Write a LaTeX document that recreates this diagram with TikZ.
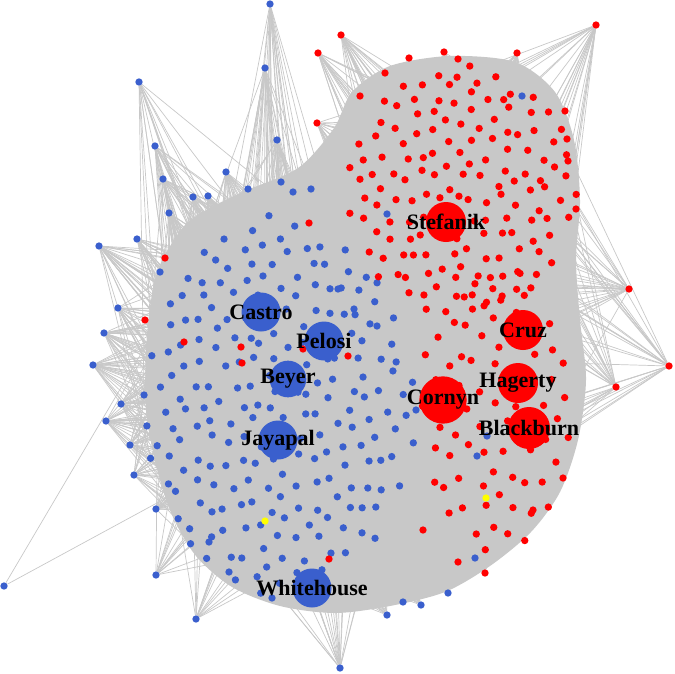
\documentclass[tikz,border=0pt]{standalone}
\usepackage{fontspec}
\setmainfont{Liberation Serif}
\usetikzlibrary{positioning}
\definecolor{demblue}{RGB}{58,95,205}
\definecolor{repred}{RGB}{255,0,0}
\definecolor{indyellow}{RGB}{255,255,0}
\definecolor{linkgrey}{RGB}{200,200,200}
\pgfdeclarelayer{links}
\pgfsetlayers{links,main}
\tikzstyle{dnode} = [circle, fill=demblue, inner sep=0pt, minimum size=2.2mm]
\tikzstyle{rnode} = [circle, fill=repred, inner sep=0pt, minimum size=2.2mm]
\tikzstyle{ynode} = [circle, fill=indyellow, inner sep=0pt, minimum size=2.2mm]
\tikzstyle{dbig} = [dnode, minimum size=1.17cm]
\tikzstyle{rbig} = [rnode, minimum size=1.2cm]
\tikzstyle{link} = [draw=linkgrey, line width=0.6pt]

% rim members: x/y/number of links
\def\bluerim{270/4/8, 265/68/10, 139/82/6, 155/146/8, 277/140/10, 163/179/10,
  226/172/10, 193/197/10, 208/196/10, 248/189/8, 281/182/6, 293/192/6,
  311/189/6, 169/213/10, 137/239/10, 99/246/12, 160/272/8, 118/308/10,
  104/333/12, 93/365/12, 121/404/10, 106/421/12, 130/445/10, 134/475/10,
  156/509/10, 4/586/1, 156/575/6, 196/619/6, 229/572/6, 209/542/6,
  340/668/8, 272/598/6, 475/558/6, 448/593/6, 421/605/6, 403/602/6, 387/615/6}
\def\redrim{341/35/10, 318/53/8, 317/123/8, 596/25/10, 517/53/10, 444/52/8,
  409/58/8, 458/59/6, 385/73/8, 360/96/8, 565/111/8, 567/139/8, 568/161/8,
  576/209/8, 629/289/10, 669/366/10, 616/387/10, 563/478/8, 533/510/8, 485/573/8}
\def\redstray{165/258, 145/320, 184/342, 241/347, 242/363, 303/349, 329/559,
  309/223, 348/356, 423/530, 458/562}
\def\bluestray{387/214, 338/289, 354/309, 377/326, 522/96, 477/456, 487/436, 416/410}

\begin{document}
\begin{tikzpicture}[x=0.03cm, y=-0.03cm,
    every label/.style={font=\bfseries\fontsize{18.8}{20}\selectfont, text=black}]
\useasboundingbox (0,0) rectangle (675,673);
\pgfmathsetseed{31}

% democrats
\foreach \i in {1,...,220}{
  \pgfmathsetmacro{\tht}{360*(\i*0.381966-floor(\i*0.381966))}
  \pgfmathsetmacro{\rdist}{sqrt((\i-0.5)/220)}
  \node [dnode] (b\i) at ({278+135*\rdist*cos(\tht)+5*rand},{405+188*\rdist*sin(\tht)+5*rand}) {};
}
% republicans
\foreach \i in {1,...,150}{
  \pgfmathsetmacro{\tht}{360*(\i*0.381966-floor(\i*0.381966))}
  \pgfmathsetmacro{\rdist}{sqrt((\i-0.5)/150)}
  \node [rnode] (r\i) at ({462+114*\rdist*cos(\tht)+5*rand},{190+128*\rdist*sin(\tht)+5*rand}) {};
}
\foreach \i in {151,...,225}{
  \pgfmathsetmacro{\tht}{360*(\i*0.381966-floor(\i*0.381966))}
  \pgfmathsetmacro{\rdist}{sqrt((\i-150.5)/75)}
  \node [rnode] (r\i) at ({495+76*\rdist*cos(\tht)+5*rand},{412+146*\rdist*sin(\tht)+5*rand}) {};
}
\foreach \px/\py [count=\k] in \redstray
  \node [rnode] (rs\k) at (\px,\py) {};
\foreach \px/\py [count=\k] in \bluestray
  \node [dnode] (bs\k) at (\px,\py) {};
\foreach \px/\py/\n [count=\k] in \bluerim
  \node [dnode] (bp\k) at (\px,\py) {};
\foreach \px/\py/\n [count=\k] in \redrim
  \node [rnode] (rp\k) at (\px,\py) {};
\node [ynode] (y1) at (265,521) {};
\node [ynode] (y2) at (486,498) {};

% leading members
\node [rbig, label=center:Stefanik] (stefanik) at (446,222) {};
\node [rbig, label=center:Cruz] (cruz) at (523,330) {};
\node [rbig, label=center:Hagerty] (hagerty) at (518,383) {};
\node [rbig, minimum size=1.42cm, label=center:Cornyn] (cornyn) at (443,400) {};
\node [rbig, minimum size=1.26cm, label=center:Blackburn] (blackburn) at (529,428) {};
\node [dbig, label=center:Castro] (castro) at (261,312) {};
\node [dbig, label=center:Pelosi] (pelosi) at (324,341) {};
\node [dbig, minimum size=1.1cm, label=center:Beyer] (beyer) at (288,379) {};
\node [dbig, label=center:Jayapal] (jayapal) at (278,440) {};
\node [dbig, label=center:Whitehouse] (whitehouse) at (312,588) {};

\begin{pgfonlayer}{links}
% dense core
\fill [linkgrey] plot [smooth cycle] coordinates {(160,265) (188,222) (238,194)
  (298,168) (334,128) (352,92) (390,66) (450,56) (515,62) (555,92) (574,140)
  (580,200) (576,260) (580,320) (586,380) (578,440) (560,492) (531,532)
  (490,566) (445,592) (390,606) (335,613) (280,606) (232,587) (196,556)
  (172,515) (156,465) (146,410) (146,350) (151,300)};
\foreach \i in {1,...,220}
  \foreach \m in {1,2}{
    \pgfmathtruncatemacro{\j}{mod(\i+random(1,219)-1,220)+1}
    \path [link] (b\i) -- (b\j);
  }
\foreach \i in {1,...,225}
  \foreach \m in {1,2}{
    \pgfmathtruncatemacro{\j}{mod(\i+random(1,224)-1,225)+1}
    \path [link] (r\i) -- (r\j);
  }
\foreach \px/\py/\n [count=\k] in \bluerim{
  \pgfmathtruncatemacro{\nn}{2.5*\n}
  \foreach \m in {1,...,\nn}{
    \pgfmathtruncatemacro{\j}{random(1,220)}
    \path [link] (bp\k) -- (b\j);
  }
}
\foreach \px/\py/\n [count=\k] in \redrim{
  \pgfmathtruncatemacro{\nn}{2.5*\n}
  \foreach \m in {1,...,\nn}{
    \pgfmathtruncatemacro{\j}{random(1,225)}
    \path [link] (rp\k) -- (r\j);
  }
}
\foreach \px/\py [count=\k] in \redstray
  \foreach \m in {1,2,3}{
    \pgfmathtruncatemacro{\j}{random(1,220)}
    \path [link] (rs\k) -- (b\j);
  }
\foreach \px/\py [count=\k] in \bluestray
  \foreach \m in {1,2,3}{
    \pgfmathtruncatemacro{\j}{random(1,225)}
    \path [link] (bs\k) -- (r\j);
  }
\end{pgfonlayer}
\end{tikzpicture}
\end{document}
